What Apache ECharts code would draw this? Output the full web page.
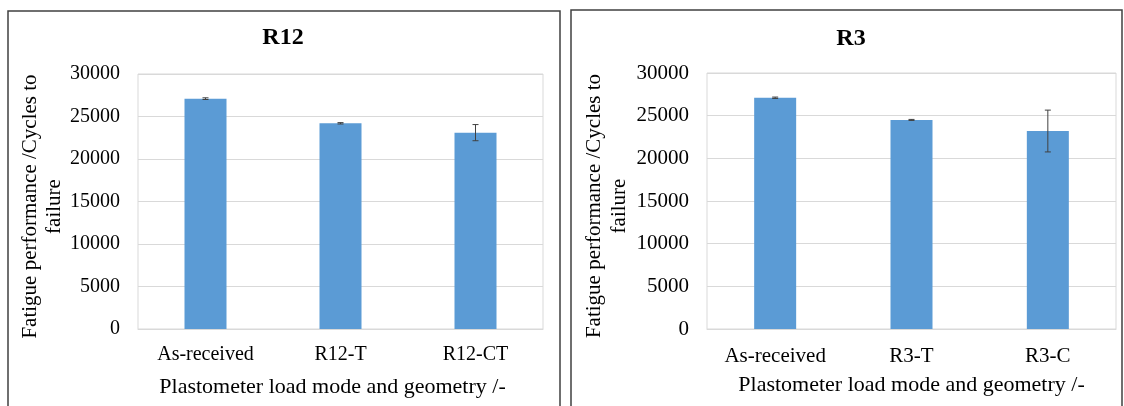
<!DOCTYPE html>
<html>
<head>
<meta charset="utf-8">
<script src="https://cdn.jsdelivr.net/npm/echarts@6/dist/echarts.min.js"></script>
<style>html,body{margin:0;padding:0;background:#fff}#c{width:1124px;height:406px}</style>
</head>
<body>
<div id="c"></div>
<script>
const titles = ['R12', 'R3'];
const categoriesR12 = ['As-received', 'R12-T', 'R12-CT'];
const valuesR12 = [27100, 24200, 23100];
const errorsR12 = [100, 80, 950];
const categoriesR3 = ['As-received', 'R3-T', 'R3-C'];
const valuesR3 = [27100, 24500, 23200];
const errorsR3 = [80, 60, 2450];
const yTicks = [0, 5000, 10000, 15000, 20000, 25000, 30000];
const yName = 'Fatigue performance /Cycles to\nfailure';
const xName = 'Plastometer load mode and geometry /-';

const FONT = '"Liberation Serif", "Times New Roman", serif';
const BAR = '#5b9bd5';
const GRIDC = '#d9d9d9';

function errItem(params, api) {
  const x = api.value(0), y = api.value(1), e = api.value(2);
  const hi = api.coord([x, y + e]);
  const lo = api.coord([x, y - e]);
  const w = 3;
  const st = { stroke: '#404040', lineWidth: 1 };
  return {
    type: 'group',
    children: [
      { type: 'line', shape: { x1: hi[0], y1: hi[1], x2: lo[0], y2: lo[1] }, style: st },
      { type: 'line', shape: { x1: hi[0] - w, y1: hi[1], x2: hi[0] + w, y2: hi[1] }, style: st },
      { type: 'line', shape: { x1: lo[0] - w, y1: lo[1], x2: lo[0] + w, y2: lo[1] }, style: st }
    ]
  };
}

function xAxis(idx, cats, fs, margin, gap, pad) {
  return {
    type: 'category', gridIndex: idx, data: cats,
    axisLine: { lineStyle: { color: GRIDC, width: 1 } },
    axisTick: { show: false },
    axisLabel: { color: '#000', fontFamily: FONT, fontSize: fs, margin: margin },
    name: xName, nameLocation: 'middle', nameGap: gap,
    nameTextStyle: { color: '#000', fontFamily: FONT, fontSize: 22, padding: pad }
  };
}
function yAxis(idx, fs, gap, lh) {
  return {
    type: 'value', gridIndex: idx, min: yTicks[0], max: yTicks[yTicks.length - 1], interval: 5000,
    axisLine: { show: false }, axisTick: { show: false },
    splitLine: { lineStyle: { color: GRIDC, width: 1 } },
    axisLabel: { color: '#000', fontFamily: FONT, fontSize: fs, margin: 18, formatter: v => String(v) },
    name: yName, nameLocation: 'middle', nameRotate: 90, nameGap: gap,
    nameTextStyle: { color: '#000', fontFamily: FONT, fontSize: 21, lineHeight: lh, padding: [0, 10, 0, 0] }
  };
}

const chart = echarts.init(document.getElementById('c'), null, { renderer: 'canvas' });
chart.setOption({
  backgroundColor: '#fff',
  animation: false,
  graphic: [
    { type: 'rect', shape: { x: 8, y: 11, width: 552, height: 420 }, style: { fill: 'none', stroke: '#404040', lineWidth: 1.5 } },
    { type: 'rect', shape: { x: 571, y: 10, width: 551, height: 420 }, style: { fill: 'none', stroke: '#404040', lineWidth: 1.5 } }
  ],
  title: [
    { text: titles[0], left: 278, top: 21, textAlign: 'center', textStyle: { fontFamily: FONT, fontSize: 24, fontWeight: 'bold', color: '#000' } },
    { text: titles[1], left: 846, top: 22, textAlign: 'center', textStyle: { fontFamily: FONT, fontSize: 24, fontWeight: 'bold', color: '#000' } }
  ],
  grid: [
    { left: 138, right: 581, top: 74, bottom: 77, show: true, borderColor: GRIDC, borderWidth: 1 },
    { left: 707, right: 8, top: 73, bottom: 77, show: true, borderColor: GRIDC, borderWidth: 1 }
  ],
  xAxis: [xAxis(0, categoriesR12, 20, 16, 47, [0, 16, 0, 0]), xAxis(1, categoriesR3, 21, 17, 45, 0)],
  yAxis: [yAxis(0, 20, 70, 24), yAxis(1, 21, 75, 25)],
  series: [
    { type: 'bar', xAxisIndex: 0, yAxisIndex: 0, data: valuesR12, barWidth: 42, itemStyle: { color: BAR } },
    { type: 'custom', xAxisIndex: 0, yAxisIndex: 0, renderItem: errItem, z: 5,
      data: valuesR12.map((v, i) => [i, v, errorsR12[i]]) },
    { type: 'bar', xAxisIndex: 1, yAxisIndex: 1, data: valuesR3, barWidth: 42, itemStyle: { color: BAR } },
    { type: 'custom', xAxisIndex: 1, yAxisIndex: 1, renderItem: errItem, z: 5,
      data: valuesR3.map((v, i) => [i, v, errorsR3[i]]) }
  ]
});
</script>
</body>
</html>
